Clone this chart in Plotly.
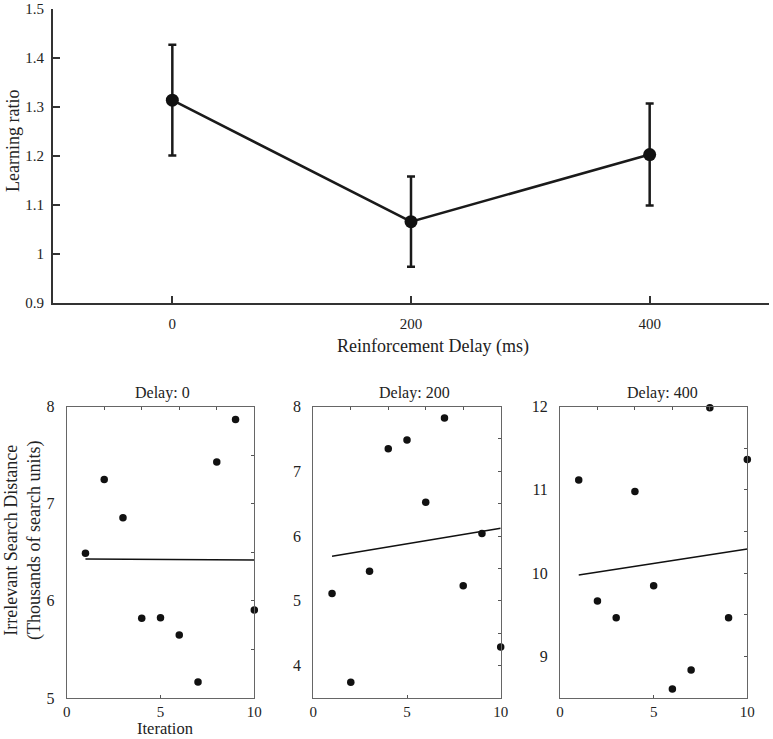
import numpy as np
import plotly.graph_objects as go

W, H = 773, 739

# ---- data ----
delays = [0, 200, 400]
learning_ratio = [1.314, 1.066, 1.203]
ratio_err = [0.113, 0.092, 0.104]

iterations = [1, 2, 3, 4, 5, 6, 7, 8, 9, 10]
dist_delay0 = [6.49, 7.25, 6.855, 5.82, 5.826, 5.648, 5.165, 7.43, 7.866, 5.905]
dist_delay200 = [5.113, 3.744, 5.456, 7.349, 7.482, 6.523, 7.821, 5.231, 6.041, 4.287]
dist_delay400 = [11.116, 9.664, 9.464, 10.98, 9.848, 8.608, 8.836, 11.984, 9.464, 11.364]
panel_titles = ["Delay: 0", "Delay: 200", "Delay: 400"]
panel_yranges = [[5, 8], [3.5, 8], [8.5, 12]]
panel_yticks = [[5, 6, 7, 8], [4, 5, 6, 7, 8], [9, 10, 11, 12]]

SERIF = "Liberation Serif, Times New Roman, serif"


def px(x):
    return x / W


def py(y):
    return 1 - y / H


fig = go.Figure()

# ---- top plot ----
fig.add_trace(go.Scatter(
    x=delays, y=learning_ratio, mode="lines+markers",
    line=dict(color="#1a1a1a", width=2.5),
    marker=dict(color="#111", size=13),
    error_y=dict(type="data", array=ratio_err, color="#1a1a1a", thickness=2.5, width=4),
    xaxis="x", yaxis="y", showlegend=False, cliponaxis=False,
))

fig.update_layout(
    xaxis=dict(domain=[px(53), px(769)], anchor="y", range=[-100, 500], automargin=False,
               tickvals=delays, ticks="inside", ticklen=7, tickwidth=1.5, tickcolor="#333",
               showline=True, linecolor="#333", linewidth=2, showgrid=False, zeroline=False,
               tickfont=dict(family=SERIF, size=15, color="#222"), ticklabelstandoff=6),
    yaxis=dict(domain=[py(303), py(9)], anchor="x", range=[0.9, 1.5], automargin=False,
               tickvals=[0.9, 1.0, 1.1, 1.2, 1.3, 1.4, 1.5],
               ticktext=["0.9", "1", "1.1", "1.2", "1.3", "1.4", "1.5"],
               ticks="inside", ticklen=7, tickwidth=1.5, tickcolor="#333",
               showline=True, linecolor="#333", linewidth=2, showgrid=False, zeroline=False,
               tickfont=dict(family=SERIF, size=15, color="#222"), ticklabelstandoff=4),
)

# ---- bottom panels ----
panel_x = [(66.7, 254.3), (313.3, 500.7), (560, 747.3)]
title_cx = [162.5, 414, 662.5]
panels = [dist_delay0, dist_delay200, dist_delay400]
annotations = []

for i, (vals, (x0, x1)) in enumerate(zip(panels, panel_x)):
    n = i + 2
    xa, ya = f"x{n}", f"y{n}"
    xt, yr = f"x{n + 3}", f"y{n + 3}"
    slope, icpt = np.polyfit(iterations, vals, 1)
    fit_x = [iterations[0], iterations[-1]]
    fit_y = [slope * v + icpt for v in fit_x]
    fig.add_trace(go.Scatter(x=fit_x, y=fit_y, mode="lines",
                             line=dict(color="#111", width=1.5),
                             xaxis=xa, yaxis=ya, showlegend=False))
    fig.add_trace(go.Scatter(x=iterations, y=vals, mode="markers",
                             marker=dict(color="#111", size=7.5),
                             xaxis=xa, yaxis=ya, showlegend=False, cliponaxis=False))
    # dummy trace for top/right tick axes
    fig.add_trace(go.Scatter(x=[None], y=[None], xaxis=xt, yaxis=yr,
                             showlegend=False, hoverinfo="skip"))
    dom_x = [px(x0), px(x1)]
    dom_y = [py(698), py(406.5)]
    fig.layout[f"xaxis{n}"] = dict(
        domain=dom_x, anchor=ya, range=[0, 10], tickvals=[0, 5, 10], automargin=False,
        ticks="inside", ticklen=3, tickcolor="#555", showline=True, mirror=True,
        linecolor="#666", linewidth=1, showgrid=False, zeroline=False,
        tickfont=dict(family=SERIF, size=15, color="#222"), ticklabelstandoff=0)
    fig.layout[f"yaxis{n}"] = dict(
        domain=dom_y, anchor=xa, range=panel_yranges[i], tickvals=panel_yticks[i],
        automargin=False, ticks="", showline=True, mirror=True,
        linecolor="#666", linewidth=1, showgrid=False, zeroline=False,
        tickfont=dict(family=SERIF, size=16, color="#222"), ticklabelstandoff=8)
    fig.layout[f"xaxis{n + 3}"] = dict(
        overlaying=xa, side="top", anchor=ya, range=[0, 10], tickvals=[2, 4, 6, 8],
        automargin=False, ticks="inside", ticklen=3, tickcolor="#555", showticklabels=False,
        showline=False, showgrid=False, zeroline=False)
    fig.layout[f"yaxis{n + 3}"] = dict(
        overlaying=ya, side="right", anchor=xa, range=panel_yranges[i], dtick=0.5,
        automargin=False, ticks="inside", ticklen=3, tickcolor="#555", showticklabels=False,
        showline=False, showgrid=False, zeroline=False)
    annotations.append(dict(text=panel_titles[i], x=px(title_cx[i]), y=py(393),
                            xref="paper", yref="paper", xanchor="center", yanchor="middle",
                            showarrow=False, font=dict(family=SERIF, size=16, color="#222")))

annotations += [
    dict(text="Reinforcement Delay (ms)", x=px(433), y=py(347), xref="paper", yref="paper",
         xanchor="center", yanchor="middle", showarrow=False,
         font=dict(family=SERIF, size=18, color="#222")),
    dict(text="Learning ratio", x=px(13), y=py(141), xref="paper", yref="paper",
         xanchor="center", yanchor="middle", showarrow=False, textangle=-90,
         font=dict(family=SERIF, size=18, color="#222")),
    dict(text="Irrelevant Search Distance<br>(Thousands of search units)", x=px(23), y=py(541),
         xref="paper", yref="paper", xanchor="center", yanchor="middle", showarrow=False,
         textangle=-90, font=dict(family=SERIF, size=18, color="#222")),
    dict(text="Iteration", x=px(165), y=0, xref="paper", yref="paper",
         xanchor="center", yanchor="bottom", showarrow=False, borderpad=0,
         font=dict(family=SERIF, size=16.5, color="#222")),
]

fig.update_layout(
    width=W, height=H, margin=dict(l=0, r=0, t=0, b=0),
    paper_bgcolor="white", plot_bgcolor="white",
    annotations=annotations, showlegend=False,
)

# remove the default page margin so the figure sits at the window's top-left corner
fig.write_html("out.html", config={"displayModeBar": False},
               post_script="document.body.style.margin='0';")
